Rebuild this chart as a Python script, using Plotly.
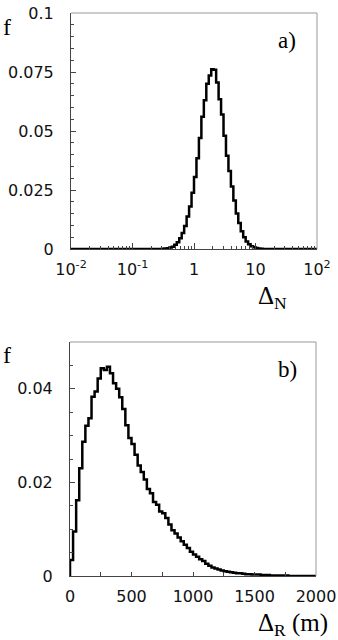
import numpy as np
import plotly.graph_objects as go

# ---- data: panel a) histogram of Delta_N, 100 log-uniform bins 10^-2 .. 10^2
dn_log_lo, dn_log_hi, dn_nbins = -2.0, 2.0, 100
dn_vals = [0.0] * 37 + [
    0.0001, 0.0002, 0.0003, 0.0006, 0.0010, 0.0018, 0.0029, 0.0046, 0.0068, 0.0097,  # 37-46
    0.0138, 0.0180, 0.0238, 0.0305, 0.0385, 0.0470, 0.0560, 0.0630, 0.0700, 0.0735,  # 47-56
    0.0762, 0.0760, 0.0705, 0.0635, 0.0570, 0.0480, 0.0395, 0.0330, 0.0265, 0.0205,  # 57-66
    0.0150, 0.0110, 0.0075, 0.0050, 0.0032, 0.0020, 0.0012, 0.0007, 0.0004, 0.0002,  # 67-76
    0.0001,                                                                          # 77
] + [0.0] * 22

# ---- data: panel b) histogram of Delta_R, 80 bins of 25 m, 0 .. 2000 m
dr_lo, dr_hi, dr_nbins = 0.0, 2000.0, 80
dr_vals = [
    0.0034, 0.0095, 0.0162, 0.0230, 0.0287, 0.0321, 0.0337, 0.0383, 0.0394, 0.0422,
    0.0444, 0.0440, 0.0447, 0.0433, 0.0412, 0.0400, 0.0382, 0.0357, 0.0322, 0.0295,
    0.0282, 0.0259, 0.0236, 0.0222, 0.0206, 0.0186, 0.0177, 0.0158, 0.0152, 0.0138,
    0.0134, 0.0124, 0.0110, 0.0098, 0.0091, 0.0082, 0.0074, 0.0067, 0.0060, 0.0052,
    0.0046, 0.0041, 0.0036, 0.0032, 0.0026, 0.0022, 0.0018, 0.0016, 0.0014, 0.0012,
    0.0010, 0.0009, 0.0008, 0.0007, 0.0006, 0.0006, 0.0005, 0.0004, 0.0004, 0.0003,
    0.0003, 0.0003, 0.0002, 0.0002, 0.0002, 0.0001, 0.0001, 0.0001, 0.0001, 0.0001,
    0.0001, 0.0, 0.0, 0.0, 0.0, 0.0, 0.0, 0.0, 0.0, 0.0,
]

xa_tickvals = [0.01, 0.1, 1, 10, 100]
xa_ticktext = ["10<sup>-2</sup>", "10<sup>-1</sup>", "1", "10", "10<sup>2</sup>"]
ya_tickvals = [0, 0.025, 0.05, 0.075, 0.1]
ya_ticktext = ["0", "0.025", "0.05", "0.075", "0.1"]
xb_tickvals = [0, 500, 1000, 1500, 2000]
xb_ticktext = ["0", "500", "1000", "1500", "2000"]
yb_tickvals = [0, 0.02, 0.04]
yb_ticktext = ["0", "0.02", "0.04"]

# ---- step outlines
dn_edges = 10 ** np.linspace(dn_log_lo, dn_log_hi, dn_nbins + 1)
dn_x = list(dn_edges)
dn_y = list(dn_vals) + [dn_vals[-1]]

dr_edges = np.linspace(dr_lo, dr_hi, dr_nbins + 1)
dr_x = [dr_edges[0]] + list(dr_edges)
dr_y = [0.0] + list(dr_vals) + [dr_vals[-1]]

W, H = 338, 640
def px(x): return x / W
def py(y): return 1 - y / H

fig = go.Figure()
fig.add_trace(go.Scatter(x=dn_x, y=dn_y, mode="lines", line=dict(shape="hv", color="black", width=2.5),
                         xaxis="x", yaxis="y", showlegend=False, hoverinfo="skip"))
fig.add_trace(go.Scatter(x=dr_x, y=dr_y, mode="lines", line=dict(shape="hv", color="black", width=2.5),
                         xaxis="x2", yaxis="y2", showlegend=False, hoverinfo="skip"))

tickfont = dict(family="DejaVu Sans", size=16, color="#111")
axcol = "#444"
common = dict(showgrid=False, zeroline=False, showline=True, linecolor=axcol, linewidth=1,
              ticks="inside", tickcolor=axcol, tickfont=tickfont, mirror=False, automargin=False)

fig.update_layout(
    width=W, height=H, margin=dict(l=0, r=0, t=0, b=0, pad=0),
    paper_bgcolor="white", plot_bgcolor="white",
    xaxis=dict(**common, type="log", domain=[px(71), px(317)], range=[-2, 2], anchor="y",
               tickvals=xa_tickvals, ticktext=xa_ticktext, ticklen=6,
               minor=dict(ticks="inside", ticklen=3, tickcolor=axcol,
                          tickvals=[m * d for d in [0.01, 0.1, 1, 10] for m in range(2, 10)]),
               ticklabelstandoff=6),
    yaxis=dict(**common, domain=[py(249), py(13)], range=[0, 0.1], anchor="x",
               tickvals=ya_tickvals, ticktext=ya_ticktext, ticklen=5,
               minor=dict(ticks="inside", ticklen=3, tickcolor=axcol, dtick=0.005),
               ticklabelstandoff=13),
    xaxis2=dict(**common, domain=[px(70), px(316)], range=[0, 2000], anchor="y2",
                tickvals=xb_tickvals, ticktext=xb_ticktext, ticklen=4,
                minor=dict(ticks="inside", ticklen=4, tickcolor=axcol, dtick=250),
                ticklabelstandoff=6),
    yaxis2=dict(**common, domain=[py(576), py(342)], range=[0, 0.05], anchor="x2",
                tickvals=yb_tickvals, ticktext=yb_ticktext, ticklen=5,
                minor=dict(ticks="inside", ticklen=3, tickcolor=axcol, dtick=0.005),
                ticklabelstandoff=13),
)

# top / right frame edges in lighter gray
for xr, yr in [("x domain", "y domain"), ("x2 domain", "y2 domain")]:
    fig.add_shape(type="line", xref=xr, yref=yr, x0=0, x1=1, y0=1, y1=1, line=dict(color="#999", width=1))
    fig.add_shape(type="line", xref=xr, yref=yr, x0=1, x1=1, y0=0, y1=1, line=dict(color="#999", width=1))

serif = "Liberation Serif"
def ann(text, x, y, size, xanchor="center"):
    fig.add_annotation(text=text, xref="paper", yref="paper", x=px(x), y=py(y), showarrow=False,
                       xanchor=xanchor, yanchor="middle", font=dict(family=serif, size=size, color="black"))

ann("f", 7, 27, 24)
ann("a)", 287, 40, 23)
ann("Δ<sub>N</sub>", 256, 297, 25, xanchor="left")
ann("f", 7, 355, 24)
ann("b)", 287, 369, 23)
ann("Δ<sub>R</sub> (m)", 256, 624, 25, xanchor="left")

fig.write_html("out.html")
